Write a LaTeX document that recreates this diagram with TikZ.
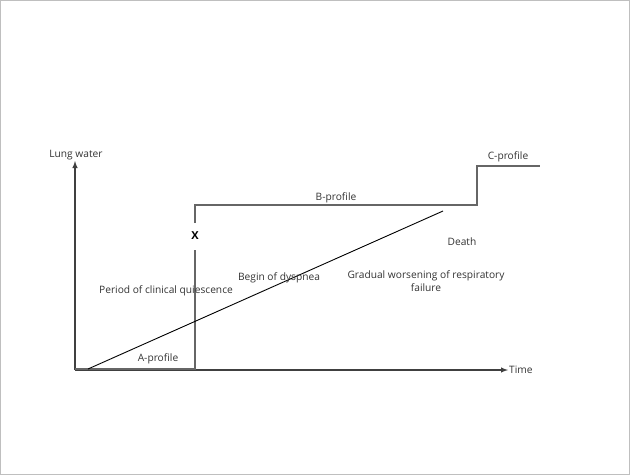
\documentclass[tikz,border=0pt]{standalone}
\usepackage{fontspec}
\setmainfont{Open Sans}
\begin{document}
\begin{tikzpicture}[x=1pt,y=-1pt,
  lbl/.style={font=\fontsize{10.2}{12.5}\selectfont, inner sep=0pt, text=black!80},
  axis/.style={draw=black!75, line width=1.4pt, -latex},
  prof/.style={draw=black!60, line width=2.8pt},
  diag/.style={draw=black, line width=0.9pt}]
\useasboundingbox (0,0) rectangle (630,475);
\draw[black!25, line width=0.6pt] (0.5,0.5) rectangle (629.5,474.5);
% axes
\coordinate (O) at (75,370);
\coordinate (Ytop) at (75,161);
\coordinate (Xend) at (508,370);
\draw[axis] (O) -- (Ytop);
\draw[axis] (O) -- (Xend);
\node[lbl, anchor=south] (lw) at (76,160) {Lung water};
\node[lbl, anchor=west] (time) at (509,370) {Time};
% profile line
\coordinate (a0) at (75,369);
\coordinate (a1) at (195,369);
\coordinate (a2) at (195,250);
\node[font=\bfseries\fontsize{11}{13}\selectfont, inner sep=0pt] (X) at (195,236) {X};
\coordinate (b0) at (195,223);
\coordinate (b1) at (195,205);
\coordinate (b2) at (477,205);
\coordinate (c0) at (477,166);
\coordinate (c1) at (540,166);
\draw[prof] (a0) -- (a1) -- (a2);
\draw[prof] (b0) -- (b1) -- (b2) -- (c0) -- (c1);
% diagonal
\coordinate (d0) at (88,369);
\coordinate (d1) at (443,211);
\draw[diag] (d0) -- (d1);
% labels
\node[lbl] (pcq) at (166,291) {Period of clinical quiescence};
\node[lbl] (ap) at (158,359) {A-profile};
\node[lbl] (bod) at (279,278) {Begin of dyspnea};
\node[lbl] (bp) at (336,198) {B-profile};
\node[lbl] (cp) at (508,157) {C-profile};
\node[lbl] (death) at (462,242) {Death};
\node[lbl, align=center] (gw) at (426,281) {Gradual worsening of respiratory\\failure};
\end{tikzpicture}
\end{document}
